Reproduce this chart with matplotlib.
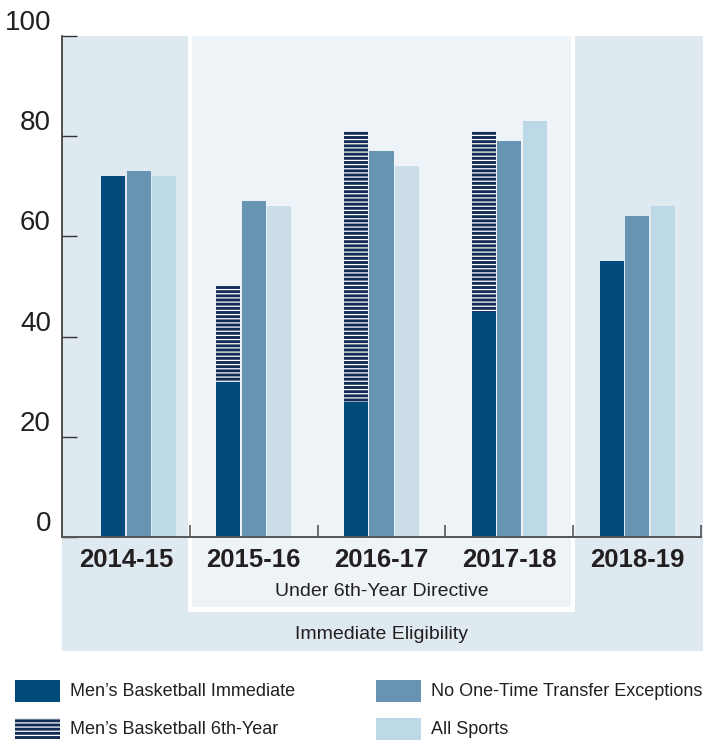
import numpy as np
import matplotlib
matplotlib.use("Agg")
import matplotlib.pyplot as plt
from matplotlib.patches import Rectangle
from matplotlib import transforms

plt.rcParams['font.family'] = ['Liberation Sans', 'DejaVu Sans']
plt.rcParams['hatch.linewidth'] = 0.9

seasons = ["2014-15", "2015-16", "2016-17", "2017-18", "2018-19"]
mbb_immediate = [72, 31, 27, 45, 55]
mbb_sixth_year = [0, 19, 54, 36, 0]   # stacked on top of immediate
no_one_time = [73, 67, 77, 79, 64]
all_sports = [72, 66, 74, 83, 66]

series_names = ["Men\u2019s Basketball Immediate", "Men\u2019s Basketball 6th-Year",
                "No One-Time Transfer Exceptions", "All Sports"]

c_dark = "#004B7C"
c_hatch = "#122D55"
c_mid = "#6894B4"
c_light = "#BDD9E8"
c_light_inner = "#CBDDE8"
txt = "#231F20"

fig = plt.figure(figsize=(7.11, 7.41), dpi=100)
ax = fig.add_axes([62/711, 1-537/741, (701-62)/711, 501/741])
ax.set_xlim(-0.5, 4.5)
ax.set_ylim(0, 100)
ax.patch.set_visible(False)

# background boxes (outer = immediate eligibility, inner = 6th-year directive)
ax.add_patch(Rectangle((-0.5, -22.7), 5.015, 122.7, facecolor="#DFE9F0",
                       edgecolor="none", clip_on=False, zorder=0))
ax.add_patch(Rectangle((0.486, -15.0), 3.03, 115.0, facecolor="white",
                       edgecolor="none", clip_on=False, zorder=0.1))
ax.add_patch(Rectangle((0.517, -14.0), 2.965, 114.0, facecolor="#EEF3F8",
                       edgecolor="none", clip_on=False, zorder=0.2))

x = np.arange(len(seasons), dtype=float)
x[0] += 0.1  # first group sits slightly right in the original
w = 0.188
step = 0.2

ax.bar(x - step, mbb_immediate, w, color=c_dark, zorder=2)
ax.bar(x - step, mbb_sixth_year, w, bottom=mbb_immediate, facecolor=c_hatch,
       edgecolor="white", linewidth=0, hatch="----", zorder=2)
ax.bar(x, no_one_time, w, color=c_mid, zorder=2)
light_cols = [c_light, c_light_inner, c_light_inner, c_light, c_light]
ax.bar(x + step, all_sports, w, color=light_cols, zorder=2)

# axes styling
for s in ["top", "right"]:
    ax.spines[s].set_visible(False)
ax.spines["left"].set_color("#333333")
ax.spines["left"].set_linewidth(1.2)
ax.spines["bottom"].set_color("#555555")
ax.spines["bottom"].set_linewidth(1.4)
ax.spines["left"].set_zorder(3)
ax.spines["bottom"].set_zorder(3)

ax.set_yticks([0, 20, 40, 60, 80, 100])
ax.tick_params(axis="y", direction="in", length=11, width=1.0, color="#333333",
               labelsize=20, labelcolor=txt, pad=8)
for lab in ax.get_yticklabels():
    lab.set_verticalalignment("bottom")

ax.set_xticks([])
ax.set_xticks(np.arange(0.5, 5, 1), minor=True)
ax.tick_params(axis="x", which="minor", direction="in", length=9, width=1.2,
               color="#555555", labelbottom=False)

for i, s in enumerate(seasons):
    ax.text(i, -4.6, s, ha="center", va="center", fontsize=18.5, fontweight="bold",
            color=txt)
ax.text(2.0, -10.9, "Under 6th-Year Directive", ha="center", va="center",
        fontsize=14, color=txt)
ax.text(2.0, -19.4, "Immediate Eligibility", ha="center", va="center",
        fontsize=14, color=txt)

# legend, drawn by hand in figure pixels
fig_px = transforms.Affine2D().scale(1/711, 1/741) + fig.transFigure
legend_items = [
    (15, 680, dict(facecolor=c_dark, edgecolor="none")),
    (15, 718, dict(facecolor=c_hatch, edgecolor="white", linewidth=0, hatch="----")),
    (376, 680, dict(facecolor=c_mid, edgecolor="none")),
    (376, 718, dict(facecolor=c_light, edgecolor="none")),
]
for (lx, ly, kw), name in zip(legend_items, series_names):
    fig.add_artist(Rectangle((lx, 741-ly-22), 45, 22, transform=fig_px, **kw))
    fig.text((lx+55)/711, 1-(ly+11)/741, name, ha="left", va="center",
             fontsize=13, color=txt)

fig.savefig("out.png", dpi=100)
